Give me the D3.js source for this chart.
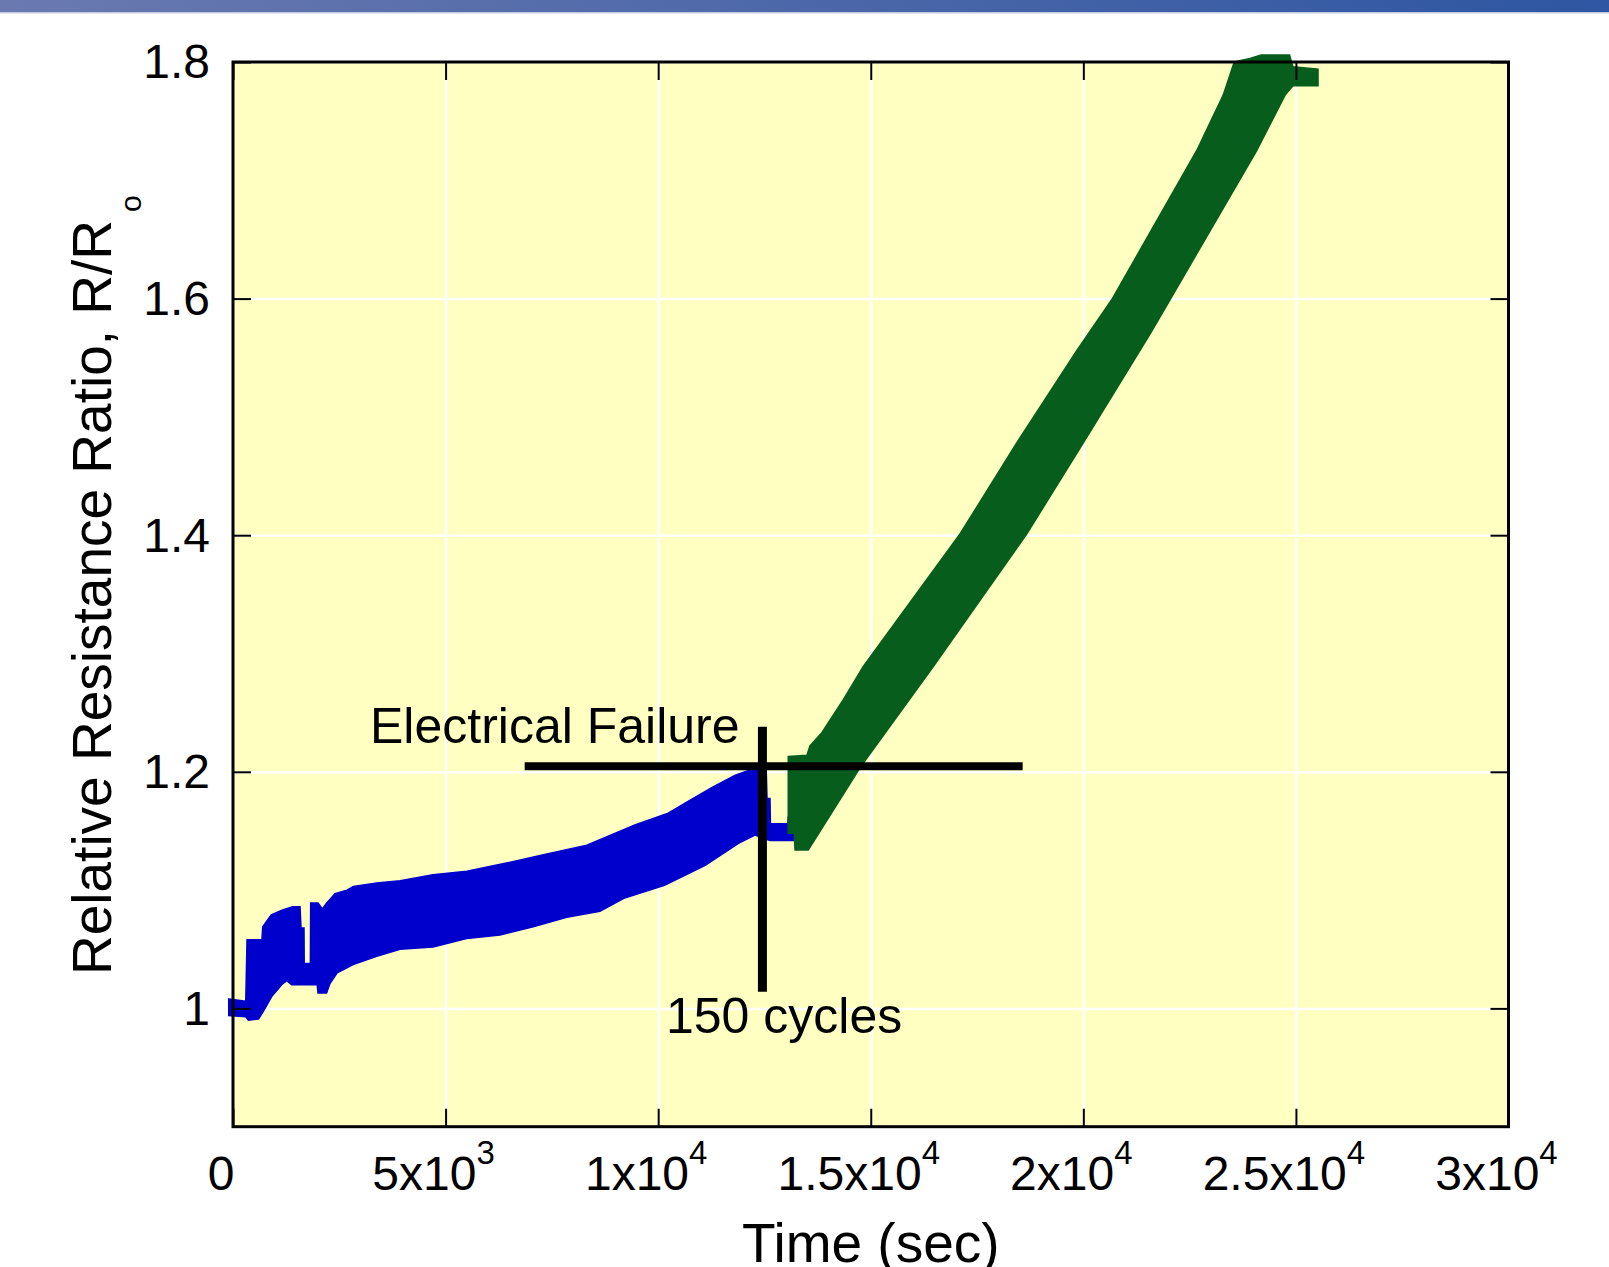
<!DOCTYPE html>
<html>
<head>
<meta charset="utf-8">
<script src="https://cdn.jsdelivr.net/npm/d3@7"></script>
<style>
  html, body { margin: 0; padding: 0; background: #ffffff; }
  svg { display: block; }
  text { font-family: "Liberation Sans", Arial, sans-serif; fill: #000; }
</style>
</head>
<body>
<script>
// ---------- data ----------
// x axis ticks (seconds) and labels
const xTicks = [0, 5000, 10000, 15000, 20000, 25000, 30000];
const xTickMantissa = ["0", "5", "1", "1.5", "2", "2.5", "3"];
const xTickExponent = ["", "3", "4", "4", "4", "4", "4"];
// y axis ticks
const yTicks = [1, 1.2, 1.4, 1.6, 1.8];
const yTickLabels = ["1", "1.2", "1.4", "1.6", "1.8"];

// blue band (before failure): upper and lower envelope [time, R/Ro]
const blueUpper = [
  [-100, 1.008], [300, 1.006], [330, 1.058], [680, 1.058], [700, 1.069], [900, 1.079],
  [1150, 1.083], [1400, 1.086], [1576, 1.086], [1600, 1.068], [1670, 1.068], [1675, 1.038],
  [1820, 1.038], [1827, 1.089], [2000, 1.089], [2100, 1.084], [2200, 1.089], [2400, 1.097],
  [2680, 1.100], [2830, 1.103], [3380, 1.106], [3930, 1.108], [4705, 1.113], [5500, 1.116],
  [6320, 1.122], [7277, 1.1296], [8322, 1.138], [9452, 1.155], [10236, 1.165], [10843, 1.178],
  [11280, 1.187], [11803, 1.197], [12106, 1.201], [12540, 1.203], [12560, 1.1775],
  [12630, 1.1775], [12640, 1.156], [13050, 1.156], [13060, 1.162], [13200, 1.165]
];
const blueLower = [
  [-100, 0.994], [300, 0.993], [360, 0.990], [600, 0.991], [706, 0.997], [910, 1.010],
  [1145, 1.020], [1262, 1.0234], [1380, 1.020], [1980, 1.020], [2000, 1.013], [2200, 1.013],
  [2280, 1.021], [2450, 1.030], [2825, 1.037], [3380, 1.044], [3930, 1.050], [4705, 1.052],
  [5495, 1.059], [6280, 1.062], [7060, 1.069], [7850, 1.077], [8630, 1.082], [9192, 1.093],
  [10149, 1.104], [11106, 1.121], [11889, 1.1395], [12277, 1.1465], [12630, 1.142],
  [13200, 1.142]
];

// green band (after failure): upper and lower envelope [time, R/Ro]
const greenUpper = [
  [13060, 1.213], [13500, 1.214], [13570, 1.222], [13850, 1.233], [14355, 1.261],
  [14825, 1.289], [17099, 1.401], [18433, 1.478], [19844, 1.556], [20667, 1.599],
  [22665, 1.725], [23290, 1.772], [23550, 1.800], [23920, 1.803], [24180, 1.806],
  [24850, 1.806], [24930, 1.796], [25520, 1.794]
];
const greenLower = [
  [13060, 1.148], [13200, 1.148], [13220, 1.134], [13530, 1.134], [14757, 1.204],
  [16471, 1.289], [18668, 1.401], [19999, 1.478], [21568, 1.570], [22038, 1.599],
  [24077, 1.725], [24745, 1.772], [24930, 1.780], [25520, 1.780]
];

// annotation lines [time, R/Ro]
const failureHLine = [[6860, 1.2046], [18573, 1.2046]];
const failureVLine = [[12452, 1.014], [12452, 1.238]];
const annotations = [
  { text: "Electrical Failure", t: 3222, v: 1.2245 },
  { text: "150 cycles", t: 10184, v: 0.979 }
];

// ---------- layout ----------
const W = 1609, H = 1267;
const plot = { left: 233, right: 1508.5, top: 62, bottom: 1126.7 };

const svg = d3.select("body").append("svg").attr("width", W).attr("height", H);

// top banner
const defs = svg.append("defs");
const grad = defs.append("linearGradient").attr("id", "banner").attr("x1", "0").attr("x2", "1");
grad.append("stop").attr("offset", "0").attr("stop-color", "#6a79b0");
grad.append("stop").attr("offset", "1").attr("stop-color", "#2e56a2");
svg.append("rect").attr("x", 0).attr("y", 0).attr("width", W).attr("height", 12).attr("fill", "url(#banner)");
svg.append("rect").attr("x", 0).attr("y", 12).attr("width", W).attr("height", 1.5).attr("fill", "#c4cbe0");

const x = d3.scaleLinear().domain([0, 30000]).range([plot.left, plot.right]);
const y = d3.scaleLinear().domain([0.9, 1.8]).range([plot.bottom, plot.top]);
const pw = plot.right - plot.left, ph = plot.bottom - plot.top;

// background
svg.append("rect").attr("x", plot.left).attr("y", plot.top).attr("width", pw).attr("height", ph)
  .attr("fill", "#ffffc2");

// grid lines (white)
const gx = svg.append("g").attr("transform", `translate(0,${plot.bottom})`)
  .call(d3.axisBottom(x).tickValues(xTicks).tickSize(-ph).tickFormat(""));
gx.select(".domain").remove();
gx.selectAll("line").attr("stroke", "#ffffff").attr("stroke-width", 2.5);
const gy = svg.append("g").attr("transform", `translate(${plot.left},0)`)
  .call(d3.axisLeft(y).tickValues(yTicks).tickSize(-pw).tickFormat(""));
gy.select(".domain").remove();
gy.selectAll("line").attr("stroke", "#ffffff").attr("stroke-width", 2.5);

// bands
const line = d3.line().x(d => x(d[0])).y(d => y(d[1]));
function band(upper, lower, color) {
  const pts = upper.concat(lower.slice().reverse());
  svg.append("path").attr("d", line(pts) + "Z").attr("fill", color).attr("stroke", color).attr("stroke-width", 1.5);
}
band(blueUpper, blueLower, "#0000cc");
band(greenUpper, greenLower, "#075e1c");

// annotation lines
svg.append("path").attr("d", line(failureHLine)).attr("stroke", "#000").attr("stroke-width", 8).attr("fill", "none");
svg.append("path").attr("d", line(failureVLine)).attr("stroke", "#000").attr("stroke-width", 9).attr("fill", "none");

svg.selectAll("text.annot").data(annotations).enter().append("text")
  .attr("class", "annot")
  .attr("x", d => x(d.t)).attr("y", d => y(d.v))
  .attr("font-size", 50)
  .text(d => d.text);

// frame ticks (inward) on all sides
function tickStyle(g) {
  g.select(".domain").remove();
  g.selectAll("line").attr("stroke", "#000").attr("stroke-width", 2);
}
svg.append("g").attr("transform", `translate(0,${plot.bottom})`)
  .call(d3.axisBottom(x).tickValues(xTicks).tickSize(-18).tickFormat("")).call(tickStyle);
svg.append("g").attr("transform", `translate(0,${plot.top})`)
  .call(d3.axisTop(x).tickValues(xTicks).tickSize(-18).tickFormat("")).call(tickStyle);
svg.append("g").attr("transform", `translate(${plot.right},0)`)
  .call(d3.axisRight(y).tickValues(yTicks).tickSize(-18).tickFormat("")).call(tickStyle);
const yAxis = svg.append("g").attr("transform", `translate(${plot.left},0)`)
  .call(d3.axisLeft(y).tickValues(yTicks).tickSize(-18).tickPadding(23)
    .tickFormat((d, i) => yTickLabels[i]));
yAxis.select(".domain").remove();
yAxis.selectAll("line").attr("stroke", "#000").attr("stroke-width", 2);
yAxis.selectAll("text").attr("font-size", 48).attr("font-family", "Liberation Sans, Arial, sans-serif")
  .attr("fill", "#000").attr("dy", "0.33em");

// frame
svg.append("rect").attr("x", plot.left).attr("y", plot.top).attr("width", pw).attr("height", ph)
  .attr("fill", "none").attr("stroke", "#000").attr("stroke-width", 3);

// x tick labels with superscripts
const xl = svg.append("g");
xTicks.forEach((t, i) => {
  const txt = xl.append("text")
    .attr("x", x(t) - 12).attr("y", 1190)
    .attr("text-anchor", "middle").attr("font-size", 48);
  if (xTickExponent[i] === "") {
    txt.text(xTickMantissa[i]);
  } else {
    txt.append("tspan").text(xTickMantissa[i] + "x10");
    txt.append("tspan").attr("font-size", 33).attr("dy", -26).text(xTickExponent[i]);
  }
});

// axis titles
svg.append("text")
  .attr("x", (plot.left + plot.right) / 2).attr("y", 1262)
  .attr("text-anchor", "middle").attr("font-size", 55)
  .text("Time (sec)");

const yt = svg.append("text")
  .attr("transform", "translate(111,975) rotate(-90)")
  .attr("font-size", 55);
yt.append("tspan").text("Relative Resistance Ratio, R/R");
yt.append("tspan").attr("font-size", 30).attr("dx", 8).attr("dy", 30).text("o");
</script>
</body>
</html>
